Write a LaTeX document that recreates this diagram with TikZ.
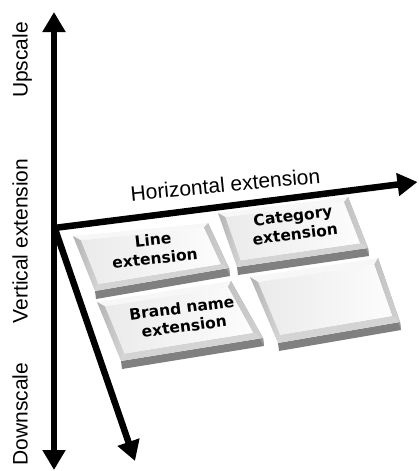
\documentclass[tikz,border=0pt]{standalone}
\usepackage{fontspec}
\setmainfont{Liberation Sans}
\newfontfamily\boxfont{DejaVu Sans}
\usetikzlibrary{arrows.meta,calc}
\newcommand\bevbox[4]{%
  \coordinate (tl) at #1; \coordinate (tr) at #2;
  \coordinate (br) at #3; \coordinate (bl) at #4;
  \coordinate (itl) at ($(tl)!0.045!(tr) + (tl)!0.09!(bl) - (tl)$);
  \coordinate (itr) at ($(tr)!0.045!(tl) + (tr)!0.09!(br) - (tr)$);
  \coordinate (ibr) at ($(br)!0.045!(bl) + (br)!0.11!(tr) - (br)$);
  \coordinate (ibl) at ($(bl)!0.045!(br) + (bl)!0.11!(tl) - (bl)$);
  \fill[sidedark] (bl) -- (br) -- ($(br)+(1,8)$) -- ($(bl)+(1,8)$) -- cycle;
  \fill[sidemid] (tr) -- ($(tr)+(1,8)$) -- ($(br)+(1,8)$) -- (br) -- cycle;
  \fill[facettop] (tl) -- (tr) -- (itr) -- (itl) -- cycle;
  \shade[facetleft] (tl) -- (itl) -- (ibl) -- (bl) -- cycle;
  \shade[facetright] (tr) -- (br) -- (ibr) -- (itr) -- cycle;
  \fill[facetbottom] (bl) -- (ibl) -- (ibr) -- (br) -- cycle;
  \shade[facetface] (itl) -- (itr) -- (ibr) -- (ibl) -- cycle;
}
\begin{document}
\begin{tikzpicture}[x=1pt,y=-1pt,
  axis/.style={line width=6.5pt,-{Triangle[width=22pt,length=20pt]}},
  axisboth/.style={line width=6.5pt,{Triangle[width=22pt,length=20pt]}-{Triangle[width=22pt,length=20pt]}},
  sidelabel/.style={font=\fontsize{21}{21}\selectfont,rotate=90,anchor=base,inner sep=0pt},
  boxtext/.style={font=\boxfont\bfseries\fontsize{15.5}{18.5}\selectfont,align=center,inner sep=0pt},
  sidedark/.style={fill=black!50},
  sidemid/.style={fill=black!40},
  facettop/.style={fill=black!3},
  facetleft/.style={left color=black!30,right color=black!16},
  facetright/.style={left color=black!24,right color=black!18},
  facetbottom/.style={fill=black!17},
  facetface/.style={left color=black!8,right color=black!1}]
\useasboundingbox (0,0) rectangle (418,471);
% axes
\coordinate (O) at (54,228);
\coordinate (Top) at (54,12);
\coordinate (Bot) at (54,470);
\coordinate (Right) at (417.5,182);
\coordinate (Diag) at (135,461);
\draw[axisboth] (Top) -- (Bot);
\draw[axis] (O) -- (Right);
\draw[axis] ($(O)+(0,-2)$) -- (Diag);
% axis labels
\node[sidelabel] (up) at (27.5,60) {Upscale};
\node[sidelabel] (vert) at (27.5,241) {Vertical extension};
\node[sidelabel] (down) at (27.5,414) {Downscale};
\node[font=\fontsize{21}{21}\selectfont,rotate=5.5,anchor=base,inner sep=0pt] (horiz) at (226,192) {Horizontal extension};
% boxes
\bevbox{(73,236)}{(208,223)}{(229,268)}{(95,291)}
\bevbox{(218,213)}{(348,197)}{(368,248)}{(237,267)}
\bevbox{(97,302)}{(231,281)}{(263,338)}{(121,361)}
\bevbox{(250,277)}{(378,258)}{(400,322)}{(278,343)}
% box texts
\node[boxtext,rotate=6] (line) at (154,249) {Line\\extension};
\node[boxtext,rotate=7] (cat) at (294,225) {Category\\extension};
\node[boxtext,rotate=7.5] (brand) at (183,317) {Brand name\\extension};
\end{tikzpicture}
\end{document}
